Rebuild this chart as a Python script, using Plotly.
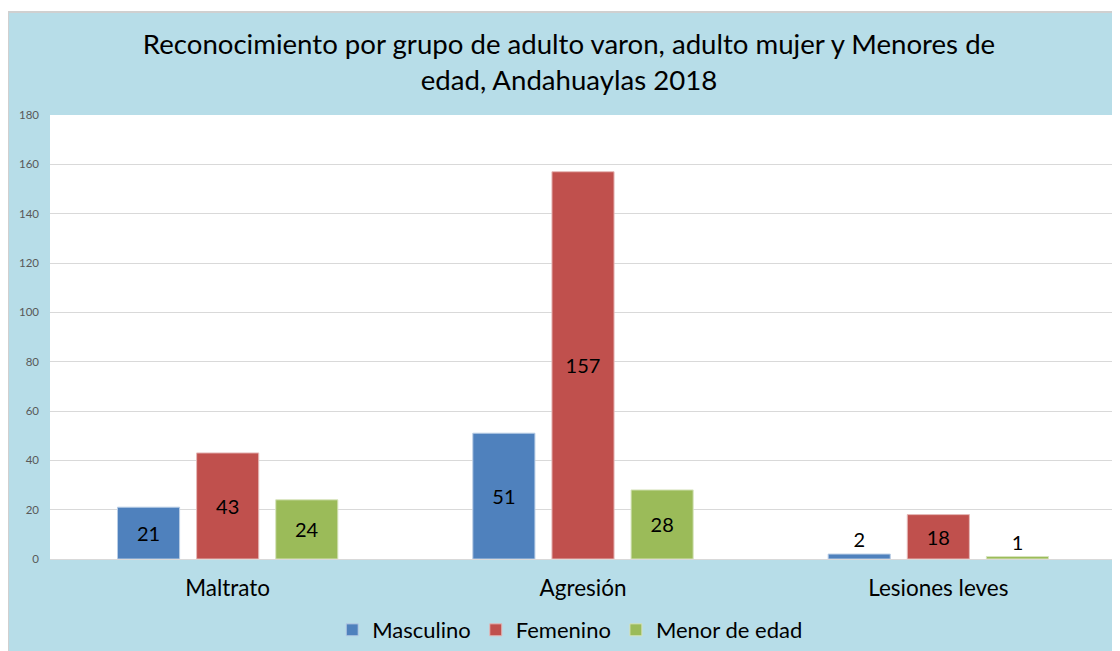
import plotly.graph_objects as go

categories = ["Maltrato", "Agresión", "Lesiones leves"]
series_names = ["Masculino", "Femenino", "Menor de edad"]
masculino = [21, 51, 2]
femenino = [43, 157, 18]
menor = [24, 28, 1]
colors = ["#4F81BD", "#C0504D", "#9BBB59"]
edge_colors = ["#B9CDE5", "#E6B9B8", "#D7E4BD"]
y_ticks = [0, 20, 40, 60, 80, 100, 120, 140, 160, 180]

FONT = "Lato"
fig = go.Figure()
for name, vals, col, ec in zip(series_names, [masculino, femenino, menor], colors, edge_colors):
    fig.add_trace(go.Bar(
        x=categories, y=vals, name=name, marker_color=col,
        marker_line=dict(color=ec, width=1),
        text=[str(v) for v in vals], textposition="auto", insidetextanchor="middle",
        textfont=dict(family=FONT, size=20, color="black"),
        outsidetextfont=dict(family=FONT, size=20, color="black"),
        insidetextfont=dict(family=FONT, size=20, color="black"),
        cliponaxis=False,
    ))

# page body adds an 8px offset; figure drawn at (8, 8)
W, H = 1112, 643
L, R, T, B = 42, 4, 107, 92
pw = W - L - R
ph = H - T - B

fig.update_layout(
    width=W, height=H,
    margin=dict(l=L, r=R, t=T, b=B, autoexpand=False),
    paper_bgcolor="#B7DDE8",
    plot_bgcolor="white",
    barmode="group", bargap=0.332, bargroupgap=0.215,
    title=dict(
        text="Reconocimiento por grupo de adulto varon, adulto mujer y Menores de<br>edad, Andahuaylas 2018",
        x=0.5045, xanchor="center", y=0.928, yanchor="middle",
        font=dict(family=FONT, size=27.6, color="black"),
    ),
    font=dict(family=FONT),
    legend=dict(
        orientation="h", x=0.488, xanchor="center", y=-0.16, yanchor="middle",
        font=dict(family=FONT, size=22, color="black"),
        bgcolor="rgba(0,0,0,0)", itemwidth=30, traceorder="normal",
    ),
    showlegend=True,
    xaxis=dict(
        showgrid=False, showline=True, linecolor="#D9D9D9", linewidth=1,
        tickfont=dict(family=FONT, size=22.5, color="black"), ticks="",
        ticklabelstandoff=9, automargin=False,
    ),
    yaxis=dict(
        range=[0, 180], tickvals=y_ticks, showgrid=True, gridcolor="#D9D9D9",
        zeroline=False, showline=False, automargin=False,
        tickfont=dict(family=FONT, size=11.5, color="#595959"), ticks="",
        ticklabelstandoff=10,
    ),
)

# thin white strip on top with gray border line (frame starts 4px lower)
fig.add_shape(type="rect", xref="paper", yref="paper", layer="below",
              x0=-L / pw, x1=1 + R / pw, y0=1 + (T - 4) / ph, y1=1 + T / ph,
              fillcolor="white", line_width=0)
fig.add_shape(type="line", xref="paper", yref="paper", layer="below",
              x0=-L / pw, x1=1 + R / pw, y0=1 + (T - 4) / ph, y1=1 + (T - 4) / ph,
              line=dict(color="#D0D0D0", width=2))
fig.add_shape(type="line", xref="paper", yref="paper", layer="below",
              x0=-L / pw, x1=-L / pw, y0=-B / ph, y1=1 + (T - 4) / ph,
              line=dict(color="#D0D0D0", width=2))

fig.write_html("out.html")
